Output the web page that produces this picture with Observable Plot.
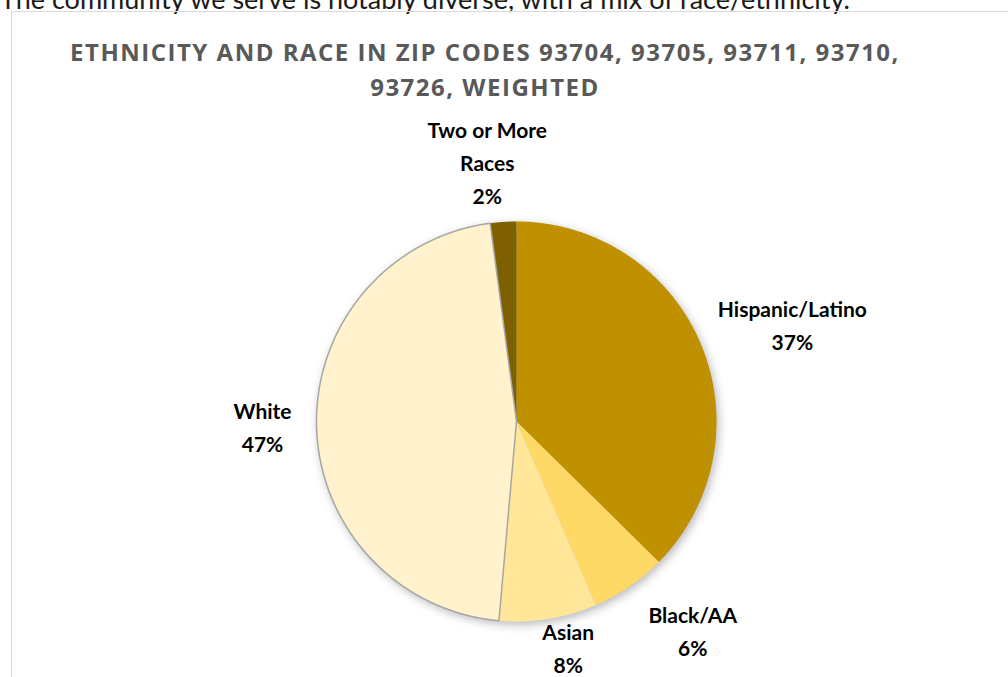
<!DOCTYPE html>
<html>
<head>
<meta charset="utf-8">
<script src="https://cdn.jsdelivr.net/npm/d3@7"></script>
<script src="https://cdn.jsdelivr.net/npm/@observablehq/plot@0.6"></script>
<style>
  html, body { margin: 0; padding: 0; background: #fff; overflow: hidden; }
  #page { position: relative; width: 1008px; height: 677px; overflow: hidden; }
  #lead { position: absolute; left: 0; top: -18px; font: 27px Lato, sans-serif; color: #1a1a1a; white-space: nowrap; }
  #frame { position: absolute; left: 11px; top: 11px; width: 1100px; height: 800px; border: 1px solid #d9d9d9; }
  #title { position: absolute; left: -15px; width: 1000px; top: 34px; text-align: center; font: bold 24px "Open Sans", sans-serif; letter-spacing: 1.5px; color: #595959; line-height: 35px; }
  #chart { position: absolute; left: 0; top: 0; }
</style>
</head>
<body>
<div id="page">
  <div id="lead">The community we serve is notably diverse, with a mix of race/ethnicity.</div>
  <div id="frame"></div>
  <div id="chart"></div>
  <div id="title">ETHNICITY AND RACE IN ZIP CODES 93704, 93705, 93711, 93710,<br>93726, WEIGHTED</div>
</div>
<script>
// ---- data ----
const categories = ["Hispanic/Latino", "Black/AA", "Asian", "White", "Two or More Races"];
const shares = [37.4, 6.1, 7.9, 46.5, 2.1];
const labelNames = ["Hispanic/Latino", "Black/AA", "Asian", "White", "Two or More\nRaces"];
const sliceColors = ["#BF9000", "#FFD966", "#FFE699", "#FFF2CC", "#7F6000"];

// ---- layout (label placement relative to slice mid-angle) ----
const labelDist = [1.465, 1.36, 1.15, 1.27, 1.315];
const labelShiftDeg = [3.0, -6.0, -3.8, 0.5, -2.6];

const arcs = d3.pie().sort(null).value(d => d)(shares);
const slices = [];
arcs.forEach((a, i) => {
  const n = Math.max(2, Math.ceil((a.endAngle - a.startAngle) / (Math.PI / 360)));
  slices.push({cat: categories[i], x: 0, y: 0});
  for (let k = 0; k <= n; k++) {
    const t = a.startAngle + (a.endAngle - a.startAngle) * k / n;
    slices.push({cat: categories[i], x: Math.sin(t), y: Math.cos(t)});
  }
});
const total = d3.sum(shares);
const labels = arcs.map((a, i) => {
  const m = (a.startAngle + a.endAngle) / 2 + labelShiftDeg[i] * Math.PI / 180;
  return {
    x: Math.sin(m) * labelDist[i],
    y: Math.cos(m) * labelDist[i],
    text: labelNames[i] + "\n" + Math.round(shares[i] / total * 100) + "%"
  };
});

const chart = Plot.plot({
  width: 1008,
  height: 677,
  marginLeft: 316,
  marginRight: 292,
  marginTop: 221,
  marginBottom: 56,
  x: {domain: [-1, 1], axis: null},
  y: {domain: [-1, 1], axis: null},
  color: {domain: categories, range: sliceColors},
  style: {background: "transparent", overflow: "visible"},
  marks: [
    Plot.line(slices, {x: "x", y: "y", z: "cat", fill: "cat", stroke: null, curve: "linear-closed"}),
    Plot.line(slices.filter(d => d.cat === "White"), {x: "x", y: "y", stroke: "#a6a6a6", strokeWidth: 1.5, curve: "linear-closed", fill: "none"}),
    Plot.text(labels, {x: "x", y: "y", text: "text", fontSize: 21, fontWeight: "bold", fill: "#000", lineHeight: 1.57, fontFamily: "Lato, sans-serif"})
  ]
});
d3.select(chart).selectAll("g[aria-label=line]").filter((d, i) => i === 0)
  .attr("filter", "drop-shadow(2px 3px 5px rgba(0,0,0,0.28))");
document.getElementById("chart").appendChild(chart);
</script>
</body>
</html>
